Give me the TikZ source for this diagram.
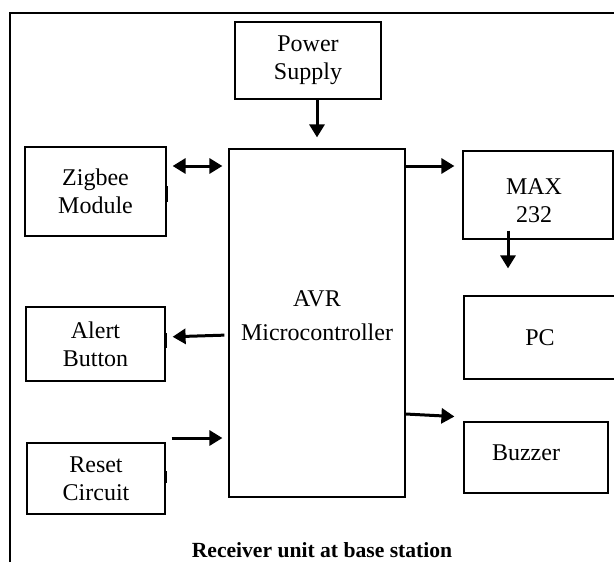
\documentclass[tikz,border=0pt]{standalone}
\usepackage{fontspec}
\setmainfont{Liberation Serif}
\usetikzlibrary{positioning,arrows.meta,calc}
\tikzset{block/.style = {draw,line width=0.6pt,align=center,inner sep=0pt,font=\fontsize{12}{14}\selectfont}}
\tikzset{label/.style = {align=center,inner sep=0pt,font=\fontsize{12}{14}\selectfont}}
\tikzset{arr/.style = {line width=1.5pt,>={Triangle[length=6.5pt,width=7.5pt]},->}}
\tikzset{tick/.style = {line width=1.1pt}}

\begin{document}
\begin{tikzpicture}[x=0.5pt,y=-0.5pt]
    \useasboundingbox (0,0) rectangle (614,562);
    \draw [line width=0.7pt] (10,562) -- (10,13) -- (614,13);

    \node [block,minimum width=73pt,minimum height=38.5pt] (power) at (308,60.5) {Power\\Supply};
    \node [block,minimum width=88pt,minimum height=174pt] (avr) at (317,323) {};
    \node [label,font=\fontsize{12}{17}\selectfont] (avrtext) at (317,316) {AVR\\Microcontroller};

    \node [block,minimum width=70.5pt,minimum height=44.5pt] (zigbee) at (95.5,191.5) {Zigbee\\Module};
    \node [block,minimum width=69.5pt,minimum height=37pt] (alert) at (95.5,344) {Alert\\Button};
    \node [block,minimum width=69pt,minimum height=35.5pt] (reset) at (96,478.5) {Reset\\Circuit};

    \node [block,minimum width=75pt,minimum height=44pt] (max) at (538,195) {};
    \node [label] (maxtext) at (534,201) {MAX\\232};
    \node [block,minimum width=76pt,minimum height=41.5pt] (pc) at (540,337.5) {PC};
    \node [block,minimum width=72pt,minimum height=35.5pt] (buzzer) at (536,457.5) {};
    \node [label] (buzzertext) at (526,453) {Buzzer};

    \node [font=\fontsize{10.8}{13}\selectfont\bfseries] (caption) at (322,550) {Receiver unit at base station};

    % connections
    \draw [arr,shorten >=5.5pt] (power.south -| avr.north) -- (avr.north);
    \draw [arr,<->,shorten <=3pt,shorten >=3pt] ([yshift=12.75pt]zigbee.east) -- ([yshift=12.75pt]zigbee.east -| avr.west);
    \draw [arr,shorten <=2pt,shorten >=3.5pt] ([yshift=-6pt]avr.west) -- ([yshift=3.5pt]alert.east);
    \draw [arr,shorten <=3pt,shorten >=3pt] ([yshift=20.25pt]reset.east) -- ([yshift=20.25pt]reset.east -| avr.west);
    \draw [arr,shorten >=4pt] ([yshift=14.5pt]max.west -| avr.east) -- ([yshift=14.5pt]max.west);
    \draw [arr,shorten >=9pt] ([xshift=-15pt,yshift=4.5pt]max.south) -- ([xshift=-15pt,yshift=4.5pt]max.south |- pc.north);
    \draw [arr,shorten >=4.5pt] ([yshift=-45.5pt]avr.east) -- ([yshift=20.25pt]buzzer.west);

    % small marks on the box edges
    \draw [tick] ([yshift=2.75pt]zigbee.east) -- ++(0,16);
    \draw [tick] ([yshift=5.5pt]alert.east) -- ++(0,15);
    \draw [tick] ([yshift=3.75pt]reset.east) -- ++(0,12);
\end{tikzpicture}
\end{document}
